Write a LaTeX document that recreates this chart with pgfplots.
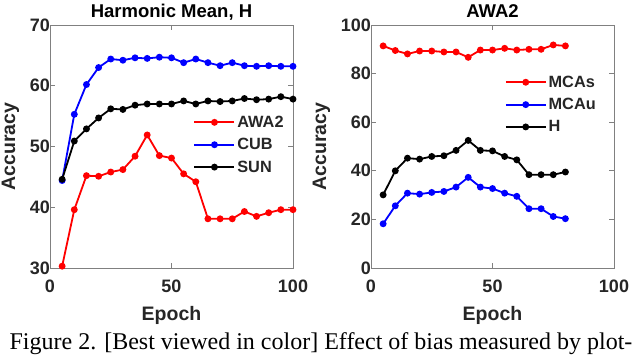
\documentclass[border=0pt]{standalone}
\usepackage{fontspec}
\setmainfont{Liberation Serif}
\newfontfamily\arial{Liberation Sans}
\usepackage{pgfplots}
\pgfplotsset{compat=1.18}
\definecolor{axgray}{RGB}{128,128,128}
\definecolor{txt}{RGB}{38,38,38}
\pgfplotsset{
  mystyle/.style={
    scale only axis, width=243pt, height=243pt,
    anchor=south west,
    axis line style={axgray, line width=0.9pt},
    tick style={axgray, line width=0.9pt},
    tick align=inside, major tick length=5pt,
    xtick pos=both, ytick pos=both,
    xmin=0, xmax=100,
    xtick={0,50,100},
    /pgf/number format/assume math mode=true,
    ticklabel style={font=\arial\bfseries\fontsize{18}{20}\selectfont, text=txt, inner sep=1pt},
    xticklabel style={yshift=-11pt},
    yticklabel style={xshift=1pt},
    xlabel={Epoch}, ylabel={Accuracy},
    label style={font=\arial\bfseries\fontsize{19.5}{21}\selectfont, text=txt},
    title style={font=\arial\bfseries\fontsize{18.5}{20}\selectfont, text=black, at={(0.5,1)}, anchor=base, yshift=1.5pt},
    legend style={draw=none, fill=none, inner sep=0pt, font=\arial\bfseries\fontsize{16.3}{18}\selectfont, text=txt, row sep=5.5pt},
    legend cell align=left,
    legend image code/.code={
      \draw[mark repeat=2, mark phase=2, #1] plot coordinates {(0pt,0pt) (20pt,0pt) (40pt,0pt)};
    },
    every axis plot/.append style={line width=1.8pt, mark=*, mark size=2.5pt},
    xlabel style={yshift=-9pt},
    ylabel style={yshift=6pt},
  }
}
\begin{document}
\begin{tikzpicture}
\path[use as bounding box] (0,0) rectangle (640pt,357pt);
\begin{axis}[mystyle, at={(50pt,89pt)},
  ymin=30, ymax=70, ytick={30,40,50,60,70},
  title={Harmonic Mean, H},
  legend style={at={(0.59,0.635)}, anchor=north west}]
\addplot[red] coordinates {(5,30.3)(10,39.6)(15,45.2)(20,45.1)(25,45.8)(30,46.2)(35,48.4)(40,51.9)(45,48.5)(50,48.1)(55,45.5)(60,44.2)(65,38.1)(70,38.1)(75,38.1)(80,39.3)(85,38.5)(90,39.1)(95,39.6)(100,39.6)};
\addplot[blue] coordinates {(5,44.4)(10,55.3)(15,60.2)(20,63.0)(25,64.4)(30,64.2)(35,64.6)(40,64.5)(45,64.7)(50,64.6)(55,63.8)(60,64.4)(65,63.8)(70,63.3)(75,63.8)(80,63.3)(85,63.2)(90,63.3)(95,63.2)(100,63.2)};
\addplot[black] coordinates {(5,44.6)(10,50.9)(15,52.9)(20,54.7)(25,56.2)(30,56.1)(35,56.8)(40,57.0)(45,57.0)(50,57.0)(55,57.5)(60,57.0)(65,57.5)(70,57.4)(75,57.5)(80,57.9)(85,57.7)(90,57.8)(95,58.2)(100,57.8)};
\legend{AWA2,CUB,SUN}
\end{axis}
\begin{axis}[mystyle, at={(371pt,89pt)},
  ymin=0, ymax=100, ytick={0,20,40,60,80,100},
  title={AWA2},
  legend style={at={(0.55,0.80)}, anchor=north west}]
\addplot[red] coordinates {(5,91.4)(10,89.5)(15,88.1)(20,89.3)(25,89.3)(30,88.9)(35,88.9)(40,86.7)(45,89.7)(50,89.7)(55,90.4)(60,89.7)(65,90.0)(70,90.0)(75,91.8)(80,91.4)};
\addplot[blue] coordinates {(5,18.2)(10,25.6)(15,30.8)(20,30.4)(25,31.1)(30,31.5)(35,33.3)(40,37.3)(45,33.3)(50,32.7)(55,30.8)(60,29.5)(65,24.4)(70,24.4)(75,21.2)(80,20.3)};
\addplot[black] coordinates {(5,30.1)(10,40.0)(15,45.2)(20,44.8)(25,45.9)(30,46.2)(35,48.4)(40,52.5)(45,48.4)(50,48.2)(55,45.9)(60,44.5)(65,38.4)(70,38.4)(75,38.4)(80,39.5)};
\legend{MCAs,MCAu,H}
\end{axis}
\node[anchor=base, font=\fontsize{24}{26}\selectfont, inner sep=0pt] at (321pt,8pt) {Figure 2. [Best viewed in color] Effect of bias measured by plot-};
\end{tikzpicture}
\end{document}
